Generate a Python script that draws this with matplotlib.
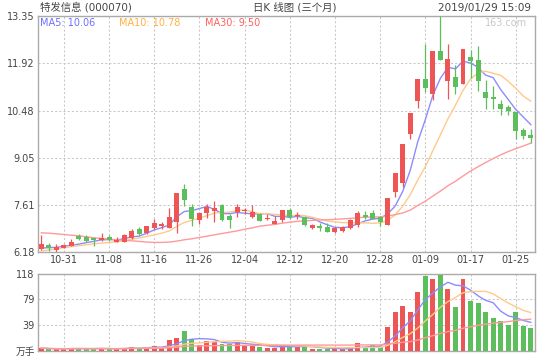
import numpy as np
import pandas as pd
import matplotlib
matplotlib.use("Agg")
import matplotlib.pyplot as plt

plt.rcParams['font.family'] = ['DejaVu Sans', 'Noto Sans CJK SC']

# trading days shown (MM-DD)
dates = ['10-26', '10-29', '10-30', '10-31', '11-01', '11-02', '11-05', '11-06', '11-07', '11-08',
         '11-09', '11-12', '11-13', '11-14', '11-15', '11-16', '11-19', '11-20', '11-21', '11-22',
         '11-23', '11-26', '11-27', '11-28', '11-29', '11-30', '12-03', '12-04', '12-05', '12-06',
         '12-07', '12-10', '12-11', '12-12', '12-13', '12-14', '12-17', '12-18', '12-19', '12-20',
         '12-21', '12-24', '12-25', '12-26', '12-27', '12-28', '01-02', '01-03', '01-04', '01-07',
         '01-08', '01-09', '01-10', '01-11', '01-14', '01-15', '01-16', '01-17', '01-18', '01-21',
         '01-22', '01-23', '01-24', '01-25', '01-28', '01-29']

opens = [6.28, 6.40, 6.26, 6.31, 6.38, 6.68, 6.65, 6.61, 6.55, 6.65,
         6.49, 6.50, 6.61, 6.89, 6.76, 6.91, 6.98, 6.93, 7.09, 8.10,
         7.55, 7.16, 7.38, 7.44, 7.63, 7.28, 7.40, 7.43, 7.25, 7.33,
         7.19, 7.04, 7.16, 7.46, 7.28, 7.26, 6.92, 6.98, 6.96, 6.79,
         6.83, 6.91, 7.01, 7.31, 7.36, 7.24, 7.01, 8.02, 8.29, 9.78,
         10.77, 11.43, 10.98, 12.28, 11.38, 11.50, 11.29, 12.12, 12.01, 11.04,
         10.89, 10.68, 10.59, 10.43, 9.88, 9.74]
closes = [6.43, 6.30, 6.35, 6.40, 6.50, 6.59, 6.53, 6.55, 6.62, 6.54,
          6.55, 6.70, 6.83, 6.73, 6.98, 7.06, 7.04, 7.24, 7.98, 7.77,
          7.19, 7.36, 7.56, 7.52, 7.15, 7.17, 7.54, 7.46, 7.41, 7.14,
          7.22, 7.13, 7.46, 7.24, 7.31, 7.01, 7.02, 6.93, 6.80, 6.92,
          6.96, 7.16, 7.38, 7.24, 7.19, 7.09, 7.83, 8.58, 9.46, 10.40,
          11.43, 11.17, 12.28, 12.02, 12.06, 11.20, 12.34, 11.99, 11.38, 10.87,
          10.82, 10.54, 10.48, 9.87, 9.72, 9.66]
highs = [6.71, 6.45, 6.42, 6.44, 6.58, 6.73, 6.71, 6.62, 6.77, 6.71,
         6.64, 6.73, 6.89, 6.94, 6.98, 7.19, 7.11, 7.53, 7.98, 8.25,
         7.64, 7.41, 7.64, 7.74, 7.65, 7.34, 7.64, 7.53, 7.61, 7.38,
         7.33, 7.29, 7.47, 7.51, 7.40, 7.27, 7.04, 7.06, 7.06, 6.95,
         6.98, 7.19, 7.44, 7.43, 7.46, 7.28, 7.83, 8.58, 9.46, 10.40,
         11.43, 12.50, 12.28, 13.35, 12.49, 11.86, 12.34, 12.31, 12.44, 11.40,
         11.24, 10.80, 10.65, 10.43, 9.96, 9.92]
lows = [6.26, 6.22, 6.20, 6.30, 6.37, 6.54, 6.48, 6.38, 6.53, 6.52,
        6.48, 6.48, 6.58, 6.71, 6.73, 6.88, 6.88, 6.91, 6.77, 7.59,
        6.99, 7.03, 7.23, 7.09, 7.13, 6.93, 7.24, 7.34, 7.23, 7.13,
        7.16, 7.03, 7.11, 7.19, 7.19, 6.98, 6.90, 6.84, 6.79, 6.77,
        6.81, 6.89, 6.96, 7.18, 7.18, 6.99, 7.01, 7.87, 8.17, 9.62,
        10.57, 11.03, 10.80, 12.00, 10.83, 10.99, 11.29, 11.46, 11.08, 10.53,
        10.54, 10.34, 10.34, 9.61, 9.62, 9.49]
# volume in 万手
volumes = [4.1, 2.6, 2.6, 2.6, 4.1, 4.1, 2.6, 2.6, 4.1, 2.6,
           3.1, 4.1, 5.7, 4.1, 5.7, 7.2, 4.6, 16.4, 19.5, 30.3,
           17.5, 8.8, 14.9, 13.4, 10.3, 10.8, 13.4, 7.2, 8.2, 5.7,
           4.1, 4.6, 8.8, 7.5, 5.1, 7.2, 2.6, 2.6, 2.6, 3.1,
           2.6, 5.1, 11.8, 5.1, 8.2, 5.1, 36.2, 59.2, 68.7, 60.0,
           90.2, 115.0, 110.0, 116.0, 95.0, 68.0, 110.0, 76.5, 72.8, 60.0,
           50.0, 45.0, 40.0, 60.0, 38.0, 35.0]

# moving-average values at the left edge (need history before the window)
ma5_head = [6.31, 6.32, 6.33, 6.36]
ma10_head = [6.22, 6.25, 6.28, 6.32, 6.35, 6.38, 6.41, 6.44, 6.46]
ma30_head = [6.77, 6.76, 6.74, 6.72, 6.70, 6.68, 6.65, 6.62, 6.60, 6.58,
             6.56, 6.54, 6.53, 6.51, 6.49, 6.48, 6.48, 6.49, 6.52, 6.56,
             6.59, 6.63, 6.67, 6.71, 6.75, 6.79, 6.83, 6.88, 6.92]

# legend values as printed on the chart
ma_names = ['MA5', 'MA10', 'MA30']
ma_last = ['10.06', '10.78', '9.50']

price_ticks = [6.18, 7.61, 9.05, 10.48, 11.92, 13.35]
vol_ticks = [0, 39, 79, 118]
vol_labels = ['万手', '39', '79', '118']

RED = '#ee5555'
GREEN = '#5cbf5c'
C_MA5 = '#8c8cff'
C_MA10 = '#ffc98a'
C_MA30 = '#ff9a9a'
GRID = '#c8c8c8'
FRAME = '#aaaaaa'
TXT = '#444444'

n = len(dates)
x = np.arange(n)
o = np.array(opens); c = np.array(closes)
h = np.array(highs); l = np.array(lows)
v = np.array(volumes)
up = c >= o
cols = np.where(up, RED, GREEN)

cs = pd.Series(closes)
ma5 = cs.rolling(5).mean().values
ma10 = cs.rolling(10).mean().values
ma30 = cs.rolling(30).mean().values
ma5[:len(ma5_head)] = ma5_head
ma10[:len(ma10_head)] = ma10_head
ma30[:len(ma30_head)] = ma30_head

vs = pd.Series(volumes)
vma5 = vs.rolling(5, min_periods=1).mean().values
vma10 = vs.rolling(10, min_periods=1).mean().values
vma30 = vs.rolling(30, min_periods=1).mean().values

W, H = 540, 360
fig = plt.figure(figsize=(5.4, 3.6), dpi=100)
L, R = 37.5, 535

def style(ax):
    for s in ax.spines.values():
        s.set_color(FRAME)
        s.set_linewidth(1.0)
    ax.grid(True, color=GRID, linestyle=(0, (2, 2)), linewidth=0.75)
    ax.set_axisbelow(True)
    ax.tick_params(length=0, colors=TXT, labelsize=7, pad=2)

ax = fig.add_axes([L / W, 1 - 252.3 / H, (R - L) / W, (252.3 - 16) / H])
style(ax)
ax.vlines(x, l, h, colors=cols, linewidth=0.9, zorder=3)
body = np.maximum(np.abs(c - o), 0.03)
ax.bar(x, body, bottom=np.minimum(o, c), width=0.66, color=cols, zorder=4)
ax.plot(x, ma5, color=C_MA5, lw=1, zorder=2)
ax.plot(x, ma10, color=C_MA10, lw=1, zorder=2)
ax.plot(x, ma30, color=C_MA30, lw=1, zorder=2)
ax.set_xlim(-0.5, 65.56)
ax.set_ylim(price_ticks[0], price_ticks[-1])
ax.set_yticks(price_ticks)
ax.set_yticklabels(['%.2f' % t for t in price_ticks])
ax.set_xticks(x[3::6])
ax.set_xticklabels(dates[3::6])

ax2 = fig.add_axes([L / W, 1 - 350.7 / H, (R - L) / W, (350.7 - 274) / H])
style(ax2)
ax2.bar(x, v, width=0.66, color=cols, zorder=3)
ax2.plot(x, vma5, color=C_MA5, lw=1, zorder=4)
ax2.plot(x, vma10, color=C_MA10, lw=1, zorder=4)
ax2.plot(x, vma30, color=C_MA30, lw=1, zorder=4)
ax2.set_xlim(ax.get_xlim())
ax2.set_ylim(0, 118)
ax2.set_yticks(vol_ticks)
ax2.set_yticklabels(vol_labels)
ax2.set_xticks(x[3::6])
ax2.set_xticklabels([])

ty = 1 - 7.5 / H
fig.text(39.5 / W, ty, '特发信息 (000070)', fontsize=7.5, color=TXT, va='center', ha='left')
fig.text(295 / W, ty, '日K 线图 (三个月)', fontsize=7.5, color=TXT, va='center', ha='center')
fig.text(531 / W, ty, '2019/01/29 15:09', fontsize=7.5, color=TXT, va='center', ha='right')

my = 1 - 23.5 / H
for name, val, px, col in zip(ma_names, ma_last, [39.5, 119, 205], ['#6f6fff', '#ffb040', '#ff6060']):
    fig.text(px / W, my, '%s: %s' % (name, val), fontsize=7, color=col, va='center')
fig.text(527 / W, my, '163.com', fontsize=7, color='#c8c8c8', va='center', ha='right')

fig.savefig('out.png', dpi=100)
